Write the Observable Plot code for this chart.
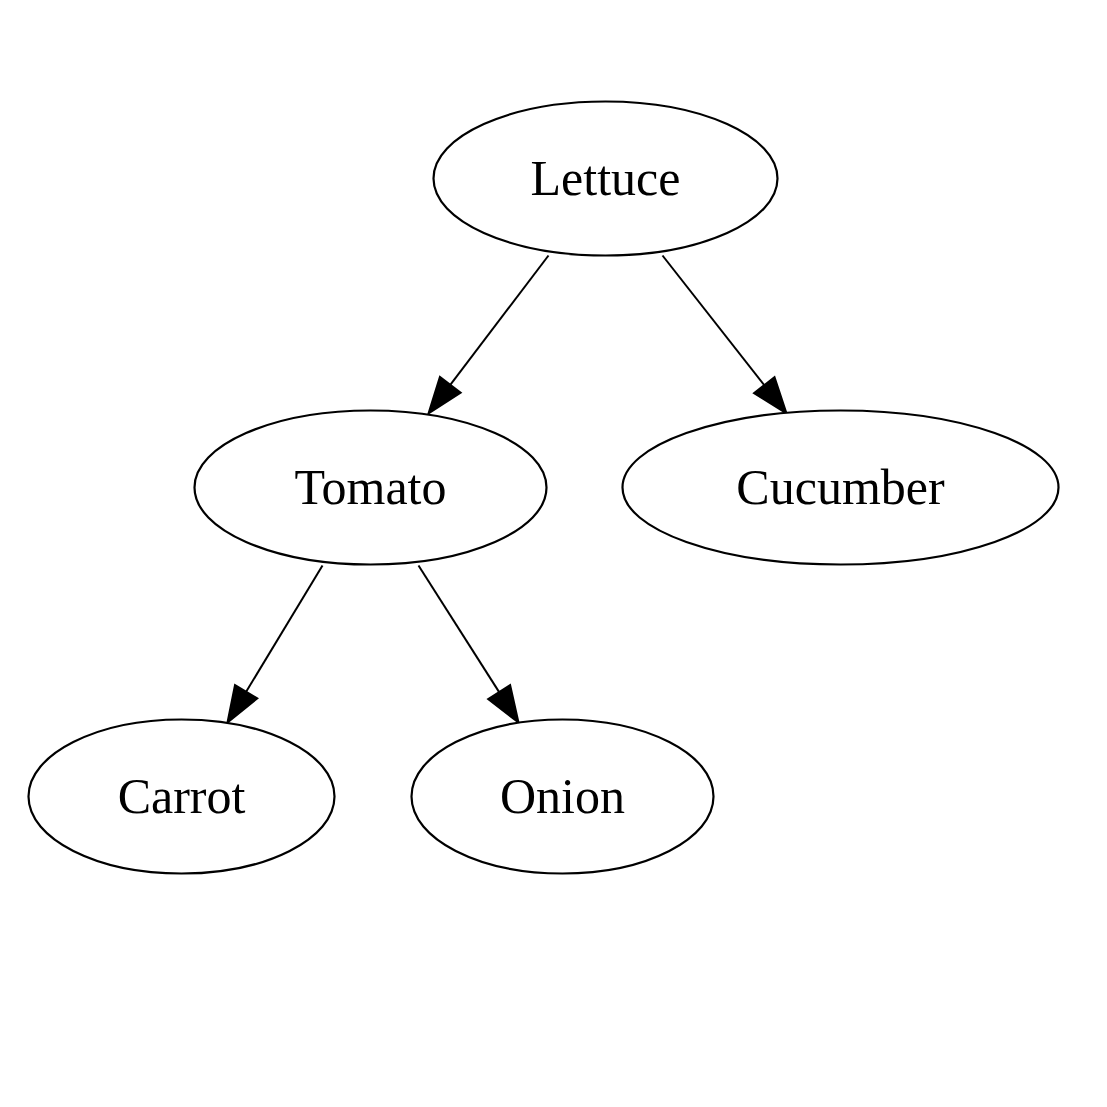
<!DOCTYPE html>
<html><head><meta charset="utf-8">
<script src="https://cdn.jsdelivr.net/npm/d3@7"></script>
<script src="https://cdn.jsdelivr.net/npm/@observablehq/plot@0.6"></script>
<style>body{margin:0;background:#fff}</style>
</head><body><div id="chart"></div>
<script>
// nodes: name, center x, center y, half-width (pixels of the tree layout)
const names = ["Lettuce", "Tomato", "Cucumber", "Carrot", "Onion"];
const nodeX = [605, 370, 840, 181, 562];
const nodeY = [178, 487, 487, 796, 562 && 796];
const nodeRx = [172, 176, 218, 153, 151];
const nodeRy = 77;

// edges: source index, target index, start point and arrow tip
const edgeFrom = [0, 0, 1, 1];
const edgeTo = [1, 2, 3, 4];
const edgeStart = [[548, 255], [662, 255], [322, 565], [418, 565]];
const edgeTip = [[428, 413], [786, 413], [227, 722], [518, 722]];

const headLen = 36, headHalf = 13;

const nodes = names.map((name, i) => ({name, x: nodeX[i], y: nodeY[i], rx: nodeRx[i]}));
const edges = edgeFrom.map((f, i) => {
  const [x1, y1] = edgeStart[i], [x2, y2] = edgeTip[i];
  const dx = x2 - x1, dy = y2 - y1, len = Math.hypot(dx, dy);
  return {
    from: names[f], to: names[edgeTo[i]],
    x1, y1, x2, y2,
    bx: x2 - dx / len * headLen, by: y2 - dy / len * headLen,
    angle: Math.atan2(dx, -dy) * 180 / Math.PI
  };
});

const K = 0.5523;
const ellipse = (rx, ry) => ({
  draw(c) {
    c.moveTo(rx, 0);
    c.bezierCurveTo(rx, ry * K, rx * K, ry, 0, ry);
    c.bezierCurveTo(-rx * K, ry, -rx, ry * K, -rx, 0);
    c.bezierCurveTo(-rx, -ry * K, -rx * K, -ry, 0, -ry);
    c.bezierCurveTo(rx * K, -ry, rx, -ry * K, rx, 0);
    c.closePath();
  }
});
const head = {
  draw(c) {
    c.moveTo(0, 0);
    c.lineTo(headHalf, headLen);
    c.lineTo(-headHalf, headLen);
    c.closePath();
  }
};

const chart = Plot.plot({
  width: 1107, height: 1107, margin: 0,
  x: {type: "identity"}, y: {type: "identity"},
  axis: null,
  style: {fontFamily: "Liberation Serif, Times New Roman, serif", background: "#fff"},
  marks: [
    Plot.link(edges, {x1: "x1", y1: "y1", x2: "bx", y2: "by", stroke: "black", strokeWidth: 2}),
    Plot.dot(edges, {x: "x2", y: "y2", rotate: "angle", symbol: head, r: 1, fill: "black", stroke: "black", strokeWidth: 2}),
    ...nodes.map(n => Plot.dot([n], {x: "x", y: "y", symbol: ellipse(n.rx, nodeRy), r: 1, fill: "white", stroke: "black", strokeWidth: 2.2})),
    Plot.text(nodes, {x: "x", y: "y", text: "name", fontSize: 50, fill: "black"})
  ]
});
document.getElementById("chart").append(chart);
</script>
</body></html>
